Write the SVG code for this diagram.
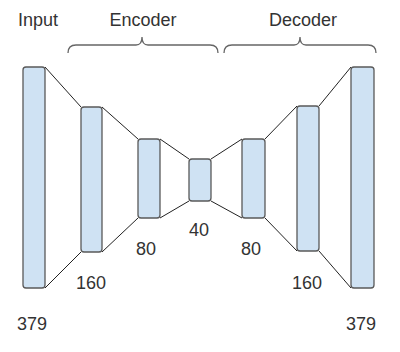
<svg xmlns="http://www.w3.org/2000/svg" width="400" height="352" viewBox="0 0 400 352">
<style>
.bar{fill:#cfe2f3;stroke:#595959;stroke-width:1.3}
.ln{stroke:#222;stroke-width:1;fill:none}
.br{stroke:#666;stroke-width:1.3;fill:none}
text{font-family:"Liberation Sans",Arial,sans-serif;font-size:18px;fill:#333;text-anchor:middle}
</style>
<rect width="400" height="352" fill="#fff"/>
<g id="connectors">
<path class="ln" d="M45,67 L81,107 M45,288 L81,252"/>
<path class="ln" d="M102,107 L138,139 M102,252 L138,218"/>
<path class="ln" d="M160,139 L189,159 M160,218 L189,201"/>
<path class="ln" d="M211,159 L242,139 M211,201 L242,218"/>
<path class="ln" d="M265,139 L297,106 M265,218 L297,251"/>
<path class="ln" d="M319,106 L351,67 M319,251 L351,288"/>
</g>
<g id="braces">
<path class="br" d="M68,53 Q68,45 76,45 L136,45 Q142,45 142,37 Q142,45 148,45 L210,45 Q218,45 218,53"/>
<path class="br" d="M224,53 Q224,45 232,45 L294,45 Q300,45 300,37 Q300,45 306,45 L368,45 Q376,45 376,53"/>
</g>
<g id="input"><rect class="bar" x="23" y="67" width="22" height="221" rx="3"/></g>
<g id="enc160"><rect class="bar" x="81" y="107" width="21" height="145" rx="3"/></g>
<g id="enc80"><rect class="bar" x="138" y="139" width="22" height="79" rx="3"/></g>
<g id="bottleneck"><rect class="bar" x="189" y="159" width="22" height="42" rx="3"/></g>
<g id="dec80"><rect class="bar" x="242" y="139" width="23" height="79" rx="3"/></g>
<g id="dec160"><rect class="bar" x="297" y="106" width="22" height="145" rx="3"/></g>
<g id="output"><rect class="bar" x="351" y="67" width="23" height="221" rx="3"/></g>
<g id="labels">
<text x="38" y="25.5">Input</text>
<text x="143" y="25.5">Encoder</text>
<text x="303" y="25.5">Decoder</text>
<text x="91" y="288.5">160</text>
<text x="146" y="255">80</text>
<text x="199" y="236">40</text>
<text x="251" y="255">80</text>
<text x="307" y="288.5">160</text>
<text x="32" y="330">379</text>
<text x="361" y="330">379</text>
</g>
</svg>
